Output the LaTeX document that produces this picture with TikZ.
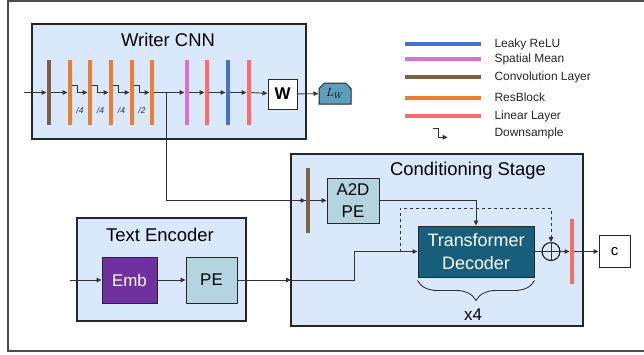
\documentclass[tikz,border=0pt]{standalone}
\usepackage{fontspec}
\setmainfont{Liberation Sans}
\usetikzlibrary{arrows.meta,positioning,calc,shapes.misc,decorations.pathreplacing}
\definecolor{panelblue}{HTML}{DAE8FC}
\definecolor{convbrown}{HTML}{7F6044}
\definecolor{resorange}{HTML}{ED7D31}
\definecolor{meanviolet}{HTML}{DA70D6}
\definecolor{linsalmon}{HTML}{FF6B6B}
\definecolor{relublue}{HTML}{4472C4}
\definecolor{pelight}{HTML}{B4D5DF}
\definecolor{transteal}{HTML}{175E7D}
\definecolor{embpurple}{HTML}{7030A0}
\definecolor{lossteal}{HTML}{5B9EBE}
\begin{document}
\begin{tikzpicture}[x=1bp, y=-1bp,
    panel/.style={draw=black!85, line width=1.2bp, fill=panelblue},
    ttl/.style={anchor=base, font=\fontsize{18.5}{22}\selectfont},
    bar/.style={rectangle, inner sep=0pt, minimum width=4.5bp, minimum height=65bp, fill=#1},
    block/.style={draw=black!85, line width=1bp, inner sep=0pt, align=center, font=\fontsize{17}{22.5}\selectfont},
    conn/.style={draw=black!80, line width=0.9bp, -{Triangle[length=5bp,width=4.5bp]}},
    wire/.style={draw=black!80, line width=0.9bp},
    dslabel/.style={font=\fontsize{8.5}{10}\itshape\selectfont, text=black!80},
    legline/.style={line width=4bp, draw=#1},
    legtext/.style={anchor=base west, font=\fontsize{12}{14}\selectfont, text=black!85}]
    \useasboundingbox (0,0) rectangle (644,354);
    % outer frame
    \draw[draw=black!70, line width=1.2bp] (644,1) -- (8,1) -- (8,351) -- (644,351);

    % writer cnn panel
    \draw[panel] (32,24) rectangle (306,139);
    \node[ttl] (wtitle) at (168,46.5) {Writer CNN};
    % layers
    \node[bar=convbrown] (conv) at (49,92.5) {};
    \foreach \x [count=\i] in {70,90,111,132,152}
        \node[bar=resorange] (res\i) at (\x,92.5) {};
    \node[bar=meanviolet] (smean) at (187,92.5) {};
    \node[bar=linsalmon] (lin1) at (207,92.5) {};
    \node[bar=relublue] (lrelu) at (228,92.5) {};
    \node[bar=linsalmon] (lin2) at (249,92.5) {};
    \node[block, fill=white, minimum width=29bp, minimum height=30bp,
        font=\fontsize{17}{20}\bfseries\selectfont] (wmat) at (282.5,94) {W};
    \node[draw=black!85, line width=1bp, fill=lossteal, chamfered rectangle,
        chamfered rectangle corners={north west,north east}, chamfered rectangle xsep=2bp,
        minimum width=32bp, minimum height=21bp, inner sep=0pt,
        font=\fontsize{12}{14}\selectfont] (loss) at (335,93.5) {$L_W$};
    % connectors
    \coordinate (wcnnin) at (24,92.5);
    \draw[conn] (wcnnin) -- (conv);
    \draw[conn] (conv) -- (res1);
    \foreach \a/\b/\f in {1/2/4,2/3/4,3/4/4,4/5/2} {
        \draw[conn] ([yshift=7.5bp]res\a.east) -- ++(5,0) |- (res\b.west);
        \node[dslabel] (ds\a) at ($(res\a.east)!0.5!(res\b.west)+(0,18)$) {/\f};
    }
    \draw[conn] (res5) -- (smean);
    \draw[conn] (smean) -- (lin1);
    \draw[conn] (lin1) -- (lrelu);
    \draw[conn] (lrelu) -- (lin2);
    \draw[conn] (lin2) -- (wmat);
    \draw[conn] (wmat) -- (loss);

    % legend
    \draw[legline=relublue] (405,44) -- (481,44);
    \node[legtext] (lg1) at (491,47.3) {Leaky ReLU};
    \draw[legline=meanviolet] (405,59) -- (481,59);
    \node[legtext] (lg2) at (491,62.7) {Spatial Mean};
    \draw[legline=convbrown] (405,77) -- (481,77);
    \node[legtext] (lg3) at (491,80) {Convolution Layer};
    \draw[legline=resorange] (405,98) -- (481,98);
    \node[legtext] (lg4) at (491,101) {ResBlock};
    \draw[legline=linsalmon] (405,116) -- (481,116);
    \node[legtext] (lg5) at (491,119) {Linear Layer};
    \coordinate (dsleg) at (432.7,128);
    \draw[conn] (dsleg) -- ++(5.6,0) -- ++(0,9.3) -- ++(9.4,0);
    \node[legtext] (lg6) at (491,136.7) {Downsample};

    % conditioning stage panel
    \draw[panel] (291,154) rectangle (583,326);
    \node[ttl] (ctitle) at (468,175.7) {Conditioning Stage};
    \node[bar=convbrown] (cconv) at (308,200.5) {};
    \node[block, fill=pelight, minimum width=52bp, minimum height=45bp] (a2d) at (353,200.5) {A2D\\PE};
    \node[block, fill=transteal, text=white, minimum width=116bp, minimum height=51bp,
        font=\fontsize{18}{22.3}\selectfont] (trans) at (476,251.5) {Transformer\\Decoder};
    \node[draw=black, line width=1bp, circle, minimum size=18bp, inner sep=0pt] (oplus) at (551,251.5) {};
    \draw[wire] (oplus.north) -- (oplus.south);
    \draw[wire] (oplus.west) -- (oplus.east);
    \node[bar=linsalmon] (clin) at (572,251.5) {};
    \node[block, fill=white, minimum width=31bp, minimum height=32bp,
        font=\fontsize{15}{18}\selectfont] (cout) at (614.5,251.5) {c};
    % repeat brace
    \draw[wire, decorate, decoration={brace, mirror, amplitude=20bp}]
        ([yshift=-3bp]trans.south west) -- ([yshift=-3bp]trans.south east);
    \node[anchor=base, font=\fontsize{17}{20}\selectfont] (reps) at (473,320) {x4};
    % connectors
    \coordinate (wbranch) at (166,92.5);
    \draw[wire] (wbranch) |- (cconv.west);
    \draw[conn] (wbranch |- cconv.west) -- (cconv.west);
    \draw[conn] (cconv) -- (a2d);
    \draw[conn] (a2d.east) -| (trans.north);
    \coordinate (skip) at (400,251.5);
    \draw[conn, dashed] (skip) -- ++(0,-43.5) -| (oplus.north);
    \draw[wire] (trans) -- (oplus);
    \draw[conn] (oplus) -- (clin);
    \draw[conn] (clin) -- (cout);

    % text encoder panel
    \draw[panel] (77,218) rectangle (246,321);
    \node[ttl] (ttitle) at (160,241.7) {Text Encoder};
    \node[block, fill=embpurple, text=white, minimum width=55bp, minimum height=46bp] (emb) at (129.5,280) {Emb};
    \node[block, fill=pelight, minimum width=51bp, minimum height=46bp] (pe) at (211.5,280) {PE};
    \coordinate (textin) at (70,280);
    \coordinate (condin) at (291,280);
    \draw[conn] (textin) -- (emb);
    \draw[conn] (emb) -- (pe);
    \draw[conn] (pe) -- (condin);
    \draw[conn] (condin) -- ++(63,0) |- (trans.west);
\end{tikzpicture}
\end{document}
